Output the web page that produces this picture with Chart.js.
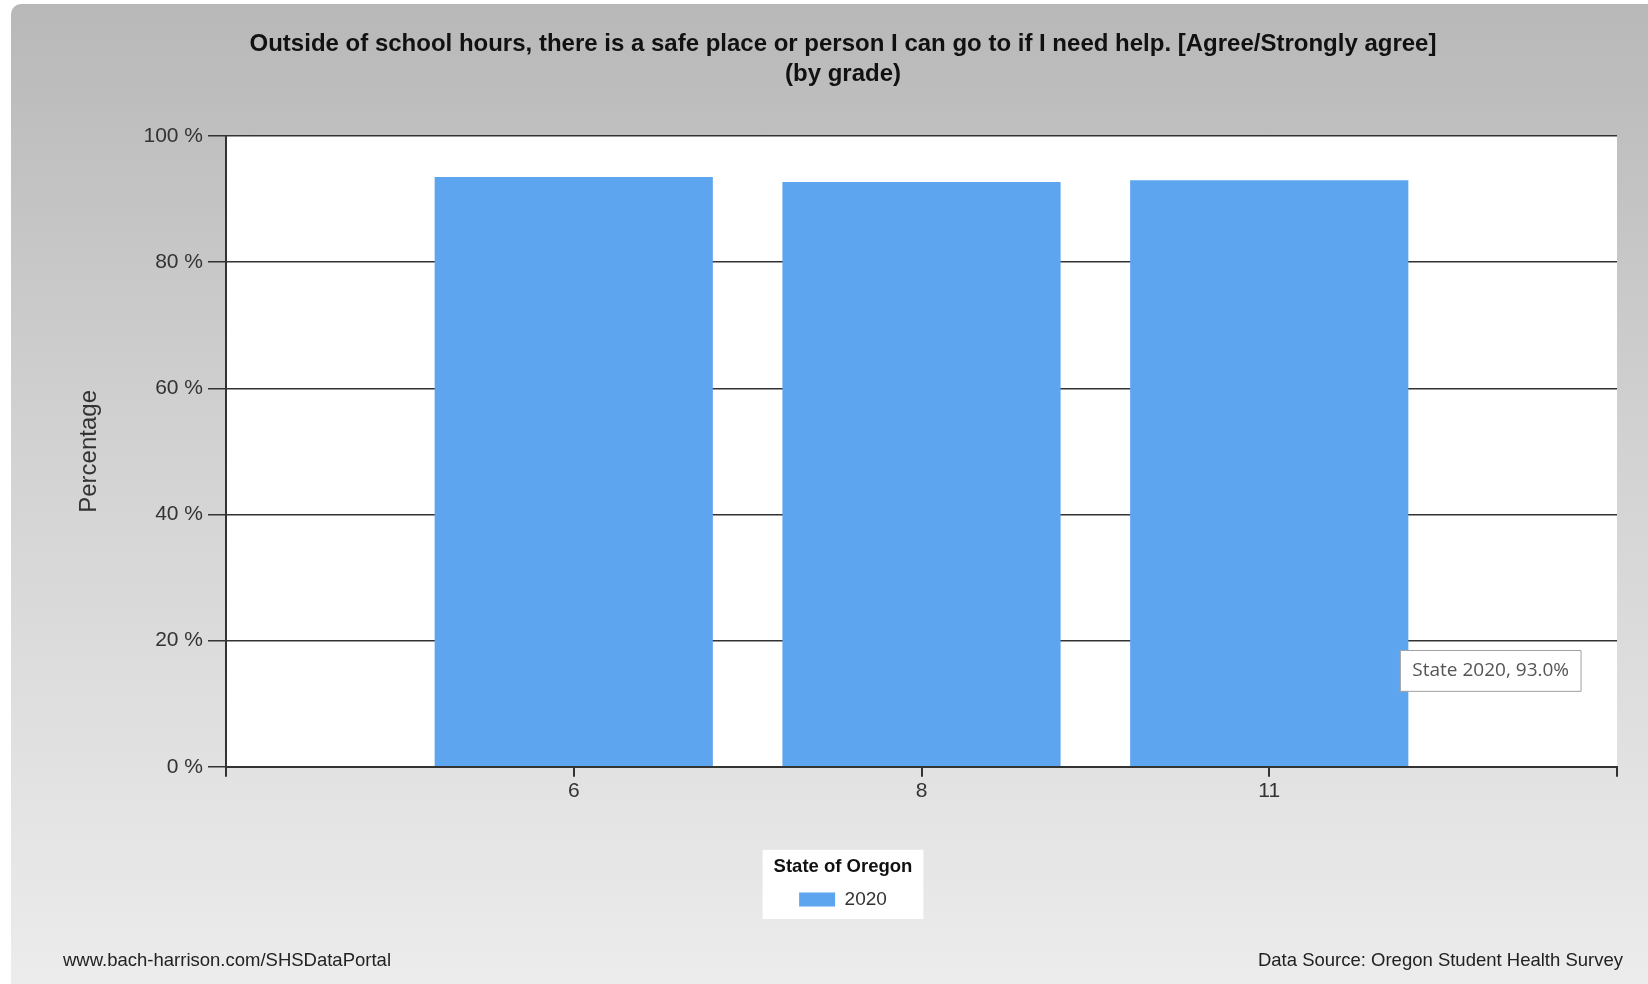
<!DOCTYPE html>
<html>
<head>
<meta charset="utf-8">
<script src="https://cdn.jsdelivr.net/npm/chart.js@4.4.1/dist/chart.umd.min.js"></script>
<style>
  html, body { margin: 0; padding: 0; background: #fff; }
  #panel {
    position: absolute; left: 11px; top: 4px; width: 1637px; height: 980px;
    border-top-left-radius: 10px;
    background: linear-gradient(to bottom, #b8b8b8 0%, #d2d2d2 45%, #ececec 100%);
  }
  #chart { position: absolute; left: 0; top: 0; }
  .foot {
    position: absolute; top: 945px; font: 18.5px "Liberation Sans", sans-serif;
    color: #222; white-space: nowrap;
  }
</style>
</head>
<body>
<div id="panel">
  <canvas id="chart" width="1637" height="980"></canvas>
  <div class="foot" style="left:52px">www.bach-harrison.com/SHSDataPortal</div>
  <div class="foot" style="right:25px">Data Source: Oregon Student Health Survey</div>
</div>
<script>
const grades = ["6", "8", "11"];
const values2020 = [93.5, 92.7, 93.0];
const seriesLabel = "2020";
const legendTitle = "State of Oregon";
const yTicks = [0, 20, 40, 60, 80, 100];
const titleLines = [
  "Outside of school hours, there is a safe place or person I can go to if I need help. [Agree/Strongly agree]",
  "(by grade)"
];
const tooltipIndex = 2;

// white plot area and white box behind the legend
const panelFills = {
  id: "panelFills",
  beforeDraw(chart) {
    const ctx = chart.ctx;
    const a = chart.chartArea;
    ctx.save();
    ctx.fillStyle = "#ffffff";
    ctx.fillRect(a.left, a.top, a.right - a.left, a.bottom - a.top);
    const lg = chart.legend;
    if (lg) {
      ctx.font = "bold 18.5px 'Liberation Sans', sans-serif";
      const w = ctx.measureText(legendTitle).width + 22;
      const cx = (lg.left + lg.right) / 2;
      ctx.fillRect(cx - w / 2, lg.top, w, lg.bottom - lg.top);
    }
    ctx.restore();
  }
};

Chart.Tooltip.positioners.besideBar = function (items) {
  if (!items.length) return false;
  const el = items[0].element;
  const y = this.chart.scales.y.getPixelForValue(15.2);
  return { x: el.x + el.width / 2 - 8, y: y };
};

const ctx = document.getElementById("chart").getContext("2d");
const chart = new Chart(ctx, {
  type: "bar",
  data: {
    datasets: [{
      label: seriesLabel,
      data: grades.map((g, i) => ({ x: i + 1, y: values2020[i] })),
      backgroundColor: "#5ea5ef",
      borderWidth: 0,
      barPercentage: 0.8,
      categoryPercentage: 1.0
    }]
  },
  plugins: [panelFills],
  options: {
    responsive: false,
    animation: false,
    events: [],
    layout: { padding: { left: 58, right: 31, top: 0, bottom: 65 } },
    plugins: {
      title: {
        display: true,
        text: titleLines,
        color: "#111",
        font: { family: "'Liberation Sans', sans-serif", size: 24, weight: "bold", lineHeight: "30px" },
        padding: { top: 25, bottom: 47 }
      },
      legend: {
        display: true,
        position: "bottom",
        title: {
          display: true,
          text: legendTitle,
          color: "#111",
          font: { family: "'Liberation Sans', sans-serif", size: 18.5, weight: "bold" },
          padding: { top: 8, bottom: 0 }
        },
        labels: {
          boxWidth: 36,
          boxHeight: 14,
          color: "#333",
          font: { family: "'Liberation Sans', sans-serif", size: 19 },
          padding: 10
        }
      },
      tooltip: {
        enabled: true,
        position: "besideBar",
        xAlign: "left",
        yAlign: "center",
        caretSize: 0,
        caretPadding: 0,
        displayColors: false,
        backgroundColor: "#ffffff",
        borderColor: "#a0a0a0",
        borderWidth: 1,
        cornerRadius: 0,
        bodyColor: "#555",
        bodyFont: { family: "'Open Sans', 'Noto Sans', sans-serif", size: 19 },
        padding: { left: 12, right: 12, top: 9, bottom: 9 },
        callbacks: {
          title: () => "",
          label: (c) => "State " + c.dataset.label + ", " + c.parsed.y.toFixed(1) + "%"
        }
      }
    },
    scales: {
      x: {
        type: "linear",
        offset: false,
        min: 0,
        max: grades.length + 1,
        afterBuildTicks: (s) => { s.ticks = Array.from({ length: grades.length + 2 }, (_, i) => ({ value: i })); },
        afterFit: (s) => { s.height = 83; },
        ticks: {
          callback: (v) => grades[v - 1] || "",
          color: "#333",
          font: { family: "'Liberation Sans', sans-serif", size: 21 },
          padding: 2,
          maxRotation: 0,
          autoSkip: false
        },
        grid: { offset: false, drawOnChartArea: false, drawTicks: true, tickLength: 10, color: "#333", lineWidth: 2 },
        border: { display: true, color: "#333", width: 2 }
      },
      y: {
        min: 0,
        max: 100,
        afterBuildTicks: (s) => { s.ticks = yTicks.map((v) => ({ value: v })); },
        afterFit: (s) => { s.width = 157; },
        ticks: {
          callback: (v) => v + " %",
          color: "#333",
          font: { family: "'Liberation Sans', sans-serif", size: 21 },
          padding: 5
        },
        grid: { color: "#333", lineWidth: 1.5, tickLength: 18 },
        border: { display: true, color: "#333", width: 2 },
        title: {
          display: true,
          text: "Percentage",
          color: "#333",
          font: { family: "'Liberation Sans', sans-serif", size: 24 },
          padding: { top: 6 }
        }
      }
    }
  }
});

chart.tooltip.setActiveElements([{ datasetIndex: 0, index: tooltipIndex }], { x: 0, y: 0 });
chart.update();
</script>
</body>
</html>
